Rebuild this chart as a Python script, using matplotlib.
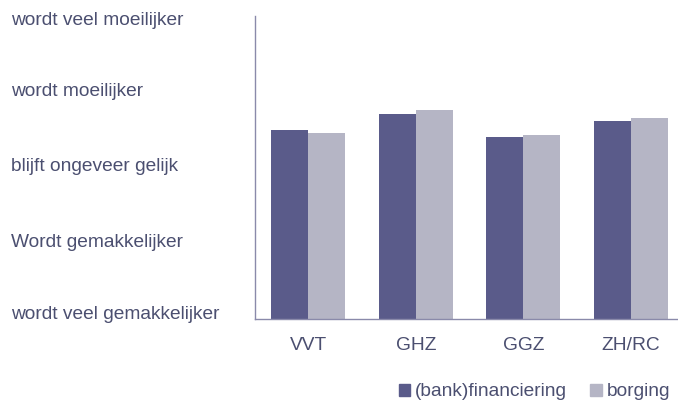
import matplotlib.pyplot as plt
import numpy as np
from matplotlib.patches import Patch
from matplotlib.transforms import blended_transform_factory, ScaledTranslation

plt.rcParams['font.family'] = ['Liberation Sans', 'DejaVu Sans']

categories = ['VVT', 'GHZ', 'GGZ', 'ZH/RC']
financiering = [3.50, 3.71, 3.40, 3.62]
borging = [3.46, 3.76, 3.43, 3.65]
level_labels = ['wordt veel gemakkelijker', 'Wordt gemakkelijker', 'blijft ongeveer gelijk',
                'wordt moeilijker', 'wordt veel moeilijker']
levels = [1, 2, 3, 4, 5]

dark = '#5a5b8a'
light = '#b5b5c5'
text_col = '#4b4f70'
axis_col = '#8a8aaa'
fs = 13.8

fig = plt.figure(figsize=(6.78, 4.01), dpi=100)
ax = fig.add_axes([254.7 / 678, 1 - 319.3 / 401, 1 - 254.7 / 678, (319.3 - 16) / 401])

x = np.arange(len(categories))
w = 0.345
ax.bar(x - w / 2, financiering, width=w, color=dark, bottom=0)
ax.bar(x + w / 2, borging, width=w, color=light, bottom=0)

ax.set_ylim(1, 5)
ax.set_xlim(-0.5, 3.44)

for s in ['top', 'right']:
    ax.spines[s].set_visible(False)
for s in ['left', 'bottom']:
    ax.spines[s].set_color(axis_col)
    ax.spines[s].set_linewidth(1.0)

ax.set_xticks(x)
ax.set_xticklabels(categories, fontsize=fs, color=text_col)
ax.tick_params(axis='x', length=0, pad=13)

ax.set_yticks([])
trans = blended_transform_factory(fig.transFigure, ax.transData)
# small vertical nudges (points) so end labels sit inside the plot height
nudge = [3.2, 0.5, 1.0, 0.0, -3.4]
for lv, lab, dy in zip(levels, level_labels, nudge):
    t = trans + ScaledTranslation(0, dy / 72, fig.dpi_scale_trans)
    ax.text(11 / 678, lv, lab, transform=t, ha='left', va='center',
            fontsize=fs, color=text_col, clip_on=False)

handles = [Patch(color=dark, label='(bank)financiering'), Patch(color=light, label='borging')]
fig.legend(handles=handles, loc='center right', bbox_to_anchor=(670 / 678, 1 - 392 / 401),
           ncol=2, frameon=False, fontsize=fs, handlelength=0.6, handleheight=0.6,
           handletextpad=0.25, columnspacing=1.2, labelcolor=text_col, borderpad=0,
           borderaxespad=0)

fig.savefig('out.png', dpi=100)
